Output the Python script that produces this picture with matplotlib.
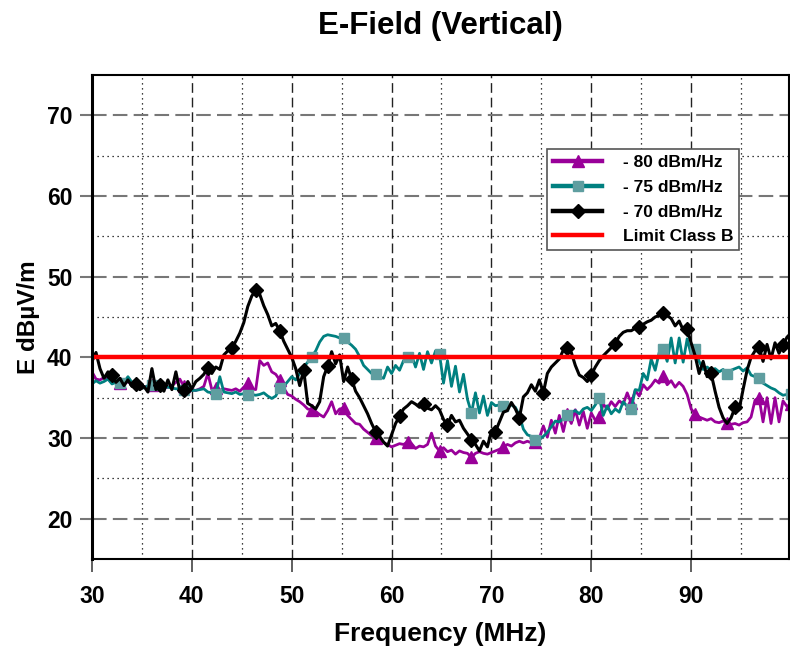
import numpy as np
import matplotlib
matplotlib.use("Agg")
import matplotlib.pyplot as plt

plt.rcParams['font.family'] = ['Liberation Sans', 'DejaVu Sans']
plt.rcParams['font.weight'] = 'bold'

# frequency grid (MHz), one sample every 0.4 MHz
freq = np.round(np.arange(30.0, 100.01, 0.4), 1)

# -80 dBm/Hz
e_80 = [
    38.2, 37.3, 37.2, 37.5, 37.3, 36.9, 37.0, 36.8, 36.7, 37.0,
    36.6, 36.8, 36.5, 36.3, 36.4, 36.6, 36.3, 36.5, 36.2, 36.3,
    36.5, 36.9, 37.3, 36.4, 35.9, 36.0, 35.9, 36.1, 36.4, 38.0,
    36.0, 36.2, 35.9, 36.1, 36.0, 35.9, 36.1, 35.8, 36.3, 36.8,
    36.1, 36.0, 39.6, 39.0, 39.3, 38.2, 37.9, 37.2, 36.2, 35.4,
    35.2, 34.8, 34.5, 34.1, 33.6, 33.5, 33.3, 32.9, 32.6, 33.4,
    34.5, 33.0, 33.6, 33.7, 32.8, 32.3, 31.8, 31.7, 31.1, 30.7,
    30.3, 30.0, 29.9, 29.4, 29.2, 28.9, 29.1, 29.3, 29.2, 29.5,
    29.3, 28.7, 29.0, 28.9, 29.2, 30.6, 29.0, 28.4, 28.8, 28.3,
    28.5, 28.0, 28.4, 28.2, 28.1, 27.6, 28.1, 28.3, 28.1, 28.0,
    28.2, 28.4, 28.6, 28.9, 29.2, 29.0, 29.4, 29.6, 29.4, 29.6,
    29.4, 29.5, 30.0, 31.5, 30.1, 32.2, 30.6, 32.8, 30.8, 33.0,
    31.8, 33.5, 31.6, 33.3, 31.2, 33.1, 32.2, 32.6, 34.2, 33.6,
    34.5, 33.9, 34.6, 34.2, 35.6, 34.3, 35.9, 35.2, 36.6, 36.0,
    36.5, 37.2, 36.8, 37.7, 36.6, 37.1, 36.3, 36.9, 36.4, 35.4,
    33.6, 33.0, 32.6, 32.4, 32.2, 32.4, 32.0, 31.9, 32.1, 31.9,
    31.7, 31.8, 31.6, 31.9, 32.0, 32.6, 34.7, 35.0, 32.0, 35.0,
    31.8, 35.0, 32.0, 34.6, 33.9, 34.2,
]

# -75 dBm/Hz
e_75 = [
    36.7, 37.1, 36.8, 37.0, 37.3, 36.7, 36.9, 36.8, 36.9, 37.6,
    36.9, 36.7, 36.4, 36.2, 36.5, 36.6, 36.7, 36.5, 36.4, 36.3,
    36.2, 36.1, 36.1, 36.0, 35.9, 35.9, 35.9, 36.0, 36.1, 35.7,
    35.6, 35.5, 37.6, 35.7, 35.6, 35.5, 35.7, 35.4, 35.5, 35.3,
    35.4, 35.3, 35.4, 35.6, 35.2, 34.9, 35.2, 36.2, 36.4, 37.0,
    37.6, 37.2, 38.0, 38.8, 39.4, 40.1, 40.8, 41.9, 42.6, 42.8,
    42.7, 42.6, 42.4, 42.4, 41.9, 41.5, 41.0, 40.1, 39.0, 38.5,
    38.0, 37.9, 37.6, 37.4, 38.8, 38.0, 39.0, 38.4, 39.6, 40.0,
    40.3, 38.8, 40.5, 38.5, 40.7, 39.3, 40.8, 40.4, 36.8, 39.6,
    36.4, 38.9, 35.7, 37.9, 34.8, 33.1, 35.6, 33.1, 35.2, 32.8,
    34.4, 34.0, 34.1, 34.0, 33.9, 34.1, 33.8, 32.8, 31.1, 30.4,
    30.2, 29.8, 29.9, 30.2, 30.7, 31.4, 32.1, 32.0, 32.4, 32.8,
    33.2, 33.4, 33.0, 33.6, 33.8, 33.4, 34.1, 35.0, 32.8, 34.0,
    33.0, 33.6, 33.2, 34.5, 33.9, 33.6, 36.0, 35.9, 38.0, 37.2,
    39.8, 38.4, 40.6, 41.0, 39.5, 42.4, 39.3, 42.4, 39.4, 42.3,
    40.3, 41.0, 39.5, 38.5, 38.8, 38.4, 38.6, 38.2, 38.5, 37.9,
    38.4, 38.6, 38.8, 38.3, 38.7, 37.8, 37.6, 37.4, 36.8, 36.5,
    36.2, 36.0, 35.6, 35.3, 35.4, 35.5,
]

# -70 dBm/Hz
e_70 = [
    39.5, 40.6, 38.6, 37.4, 38.2, 37.8, 36.9, 37.4, 36.5, 37.2,
    36.4, 36.7, 36.0, 36.4, 35.7, 38.6, 36.0, 36.6, 35.8, 37.2,
    36.0, 38.2, 35.8, 35.9, 37.0, 36.1, 37.0, 37.4, 37.9, 38.7,
    38.0, 38.8, 38.5, 40.3, 40.8, 41.1, 42.0, 43.0, 44.3, 46.3,
    47.6, 48.3, 47.8, 46.4, 45.3, 43.9, 44.2, 43.3, 42.0, 41.0,
    40.0, 38.6, 36.5, 38.4, 34.3, 34.0, 33.6, 34.5, 37.6, 38.9,
    40.7, 39.2, 40.3, 37.0, 38.8, 37.3, 35.8, 35.0, 34.0, 33.0,
    31.8, 30.8, 30.2, 29.5, 29.0, 30.4, 31.8, 32.7, 33.6, 34.0,
    34.5, 34.2, 33.8, 34.2, 33.7, 33.5, 34.0, 33.5, 32.3, 31.6,
    32.8, 32.0, 32.2, 31.2, 30.5, 29.8, 29.2, 28.4, 29.6, 28.9,
    30.9, 30.8, 32.0, 33.2, 33.4, 34.4, 33.6, 32.5, 35.1, 35.6,
    36.6, 35.8, 37.2, 35.6, 38.0, 38.8, 39.3, 39.8, 40.9, 41.2,
    40.6, 39.0, 37.8, 37.5, 37.0, 37.8, 38.8, 39.6, 40.2, 40.7,
    41.2, 41.7, 42.6, 43.1, 43.3, 43.3, 43.6, 43.8, 44.1, 44.4,
    44.6, 45.0, 45.2, 45.5, 45.2, 44.8, 43.9, 44.5, 43.4, 43.5,
    41.8, 40.2, 38.0, 39.5, 37.6, 38.0, 35.8, 33.8, 32.5, 31.8,
    32.5, 33.8, 33.5, 36.0, 38.4, 40.0, 40.8, 41.3, 39.5, 41.6,
    39.8, 41.8, 40.5, 41.5, 42.5, 43.0,
]

limit_b = 40.0

fig = plt.figure(figsize=(7.9, 6.48), dpi=100)
ax = fig.add_axes([92 / 790, 89 / 648, 697 / 790, 484 / 648])

ax.plot(freq, e_80, color='#990099', lw=2.0, marker='^', ms=8,
        markevery=slice(7, None, 8), label='- 80 dBm/Hz')
ax.plot(freq, e_75, color='#008080', lw=2.0, marker='s', ms=7,
        mfc='#5f9ea0', mec='#5f9ea0', markevery=slice(7, None, 8),
        label='- 75 dBm/Hz')
ax.plot(freq, e_70, color='black', lw=2.2, marker='D', ms=7,
        markevery=slice(5, None, 6), label='- 70 dBm/Hz')
ax.axhline(limit_b, color='#ff0000', lw=3.2, label='Limit Class B')

ax.set_xlim(30, 99.8)
ax.set_ylim(15, 75)
ax.set_xticks(range(30, 100, 10))
ax.set_xticks(range(35, 100, 10), minor=True)
ax.set_yticks(range(20, 75, 10))
ax.set_yticks(range(25, 70, 10), minor=True)

ax.grid(which='major', axis='y', color='#777777', ls=(0, (7, 3)), lw=1.5)
ax.grid(which='major', axis='x', color='#222222', ls=(0, (7, 3.5)), lw=1.0)
ax.grid(which='minor', color='black', ls=(0, (1, 3)), lw=0.9)
ax.set_axisbelow(True)

ax.tick_params(axis='x', which='major', direction='out', length=9, width=1.2,
               color='#444444', pad=10, labelsize=16.5)
ax.tick_params(axis='y', which='major', direction='out', length=9, width=1.5,
               color='#777777', pad=5, labelsize=16.5)
ax.tick_params(which='minor', length=0)

ax.spines['left'].set_linewidth(2.2)
for s in ['bottom', 'top', 'right']:
    ax.spines[s].set_linewidth(1.5)

ax.set_title('E-Field (Vertical)', fontsize=22.5, fontweight='bold', pad=29.5)
ax.set_xlabel('Frequency (MHz)', fontsize=19, fontweight='bold', labelpad=9.5)
ax.set_ylabel('E dBµV/m', fontsize=17.5, fontweight='bold', labelpad=5)

leg = ax.legend(loc='upper left', bbox_to_anchor=(0.653, 0.847), fontsize=12.5,
                handlelength=2.8, numpoints=1, fancybox=False, framealpha=1,
                borderpad=0.35, labelspacing=0.55, handletextpad=1.2,
                borderaxespad=0)
leg.get_frame().set_edgecolor('#555555')
leg.get_frame().set_linewidth(1.2)
for t in leg.get_texts():
    t.set_fontweight('bold')
for h in leg.get_lines():
    h.set_linewidth(3.2)

fig.savefig('out.png', dpi=100)
